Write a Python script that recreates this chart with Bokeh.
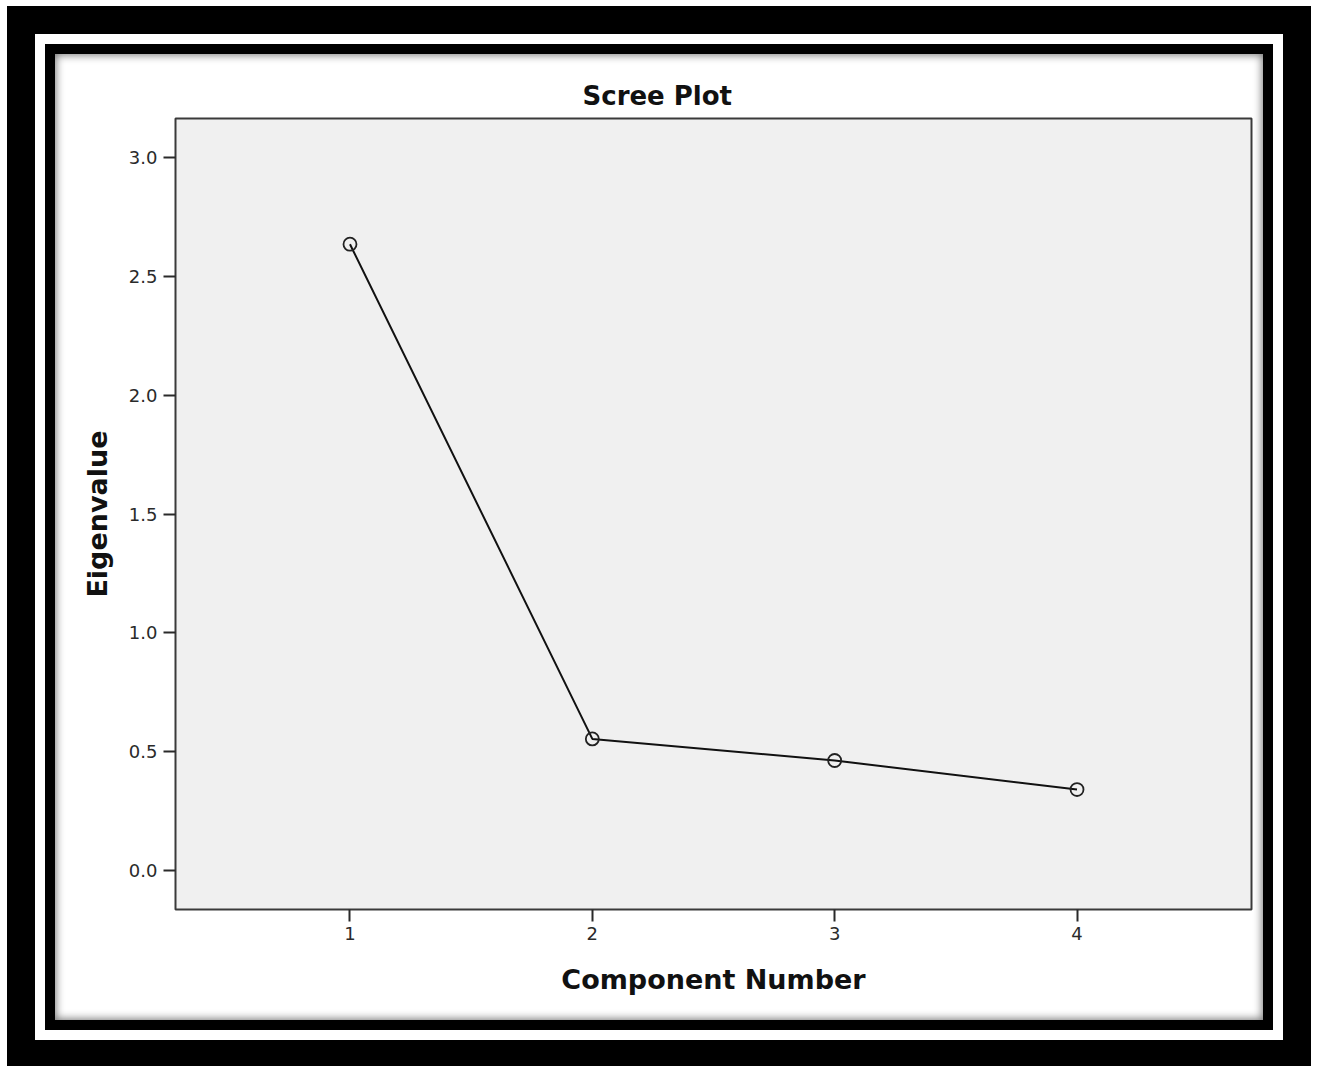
from bokeh.plotting import figure
from bokeh.models import Range1d, FixedTicker
from bokeh.embed import file_html
from bokeh.resources import INLINE

# ---- data ----
components = [1, 2, 3, 4]
eigenvalues = [2.636, 0.554, 0.463, 0.341]
x_ticks = [1, 2, 3, 4]
x_tick_labels = ["1", "2", "3", "4"]
y_ticks = [0.0, 0.5, 1.0, 1.5, 2.0, 2.5, 3.0]
y_tick_labels = ["0.0", "0.5", "1.0", "1.5", "2.0", "2.5", "3.0"]

# figure = white content panel inside the black/white picture frame
W, H = 1208, 966
FL, FR, FT, FB = 120, 1196, 64, 855  # plot frame edges inside the figure

p = figure(width=W, height=H, output_backend="svg", toolbar_location=None,
           x_range=Range1d(0.28, 4.72), y_range=Range1d(-0.164, 3.165),
           min_border_left=FL, min_border_right=W - FR,
           min_border_top=FT, min_border_bottom=H - FB)

p.styles = {
    "margin-left": "55px",
    "margin-top": "54px",
    "background-color": "white",
    "box-shadow": ("inset 0 0 9px 1px rgba(0,0,0,0.55), "
                   "0 0 0 10px black, 0 0 0 20px white, 0 0 0 48px black"),
}

p.border_fill_color = None
p.background_fill_color = "#f0f0f0"
p.outline_line_color = "#3a3a3a"
p.outline_line_width = 2
p.xgrid.visible = False
p.ygrid.visible = False

p.title.text = "Scree Plot"
p.title.align = "left"
p.title.offset = 407
p.title.text_font = "DejaVu Sans"
p.title.text_font_style = "bold"
p.title.text_font_size = "26px"
p.title.text_color = "#111111"
p.title.standoff = 16

for ax in (p.xaxis[0], p.yaxis[0]):
    ax.axis_line_color = None
    ax.major_tick_out = 12
    ax.major_tick_in = 0
    ax.major_tick_line_width = 2
    ax.major_tick_line_color = "#2a2a2a"
    ax.minor_tick_line_color = None
    ax.major_label_text_font = "DejaVu Sans"
    ax.major_label_text_font_size = "18px"
    ax.major_label_text_color = "#2a2a2a"
    ax.axis_label_text_font = "DejaVu Sans"
    ax.axis_label_text_font_style = "bold"
    ax.axis_label_text_font_size = "27px"
    ax.axis_label_text_color = "#111111"

p.xaxis.ticker = FixedTicker(ticks=x_ticks)
p.yaxis.ticker = FixedTicker(ticks=y_ticks)
p.xaxis.major_label_overrides = dict(zip(x_ticks, x_tick_labels))
p.yaxis.major_label_overrides = dict(zip(y_ticks, y_tick_labels))
p.xaxis.axis_label = "Component Number"
p.yaxis.axis_label = "Eigenvalue"
p.xaxis.major_label_standoff = 5
p.yaxis.major_label_standoff = 6
p.xaxis.axis_label_standoff = 21
p.yaxis.axis_label_standoff = 13

p.line(components, eigenvalues, line_color="#111111", line_width=2)
p.scatter(components, eigenvalues, marker="circle", size=13,
          fill_color=None, line_color="#222222", line_width=1.8)

open("out.html", "w").write(file_html(p, INLINE))
